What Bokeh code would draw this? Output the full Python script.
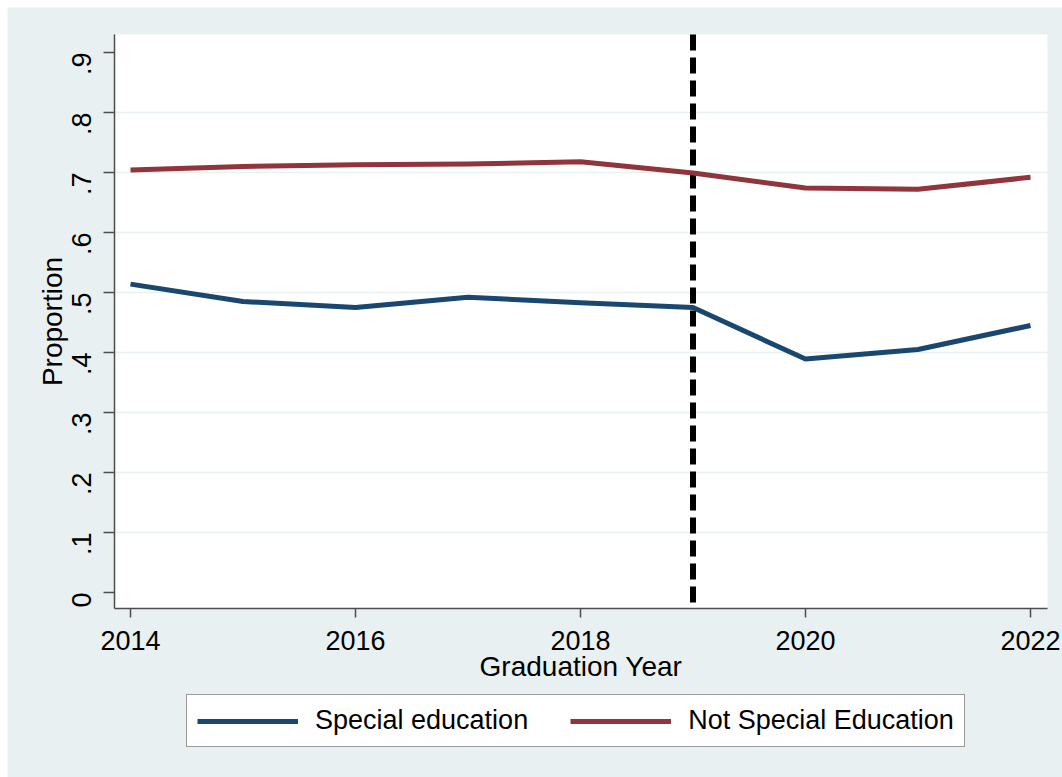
import math
from bokeh.plotting import figure
from bokeh.models import Range1d, FixedTicker, Legend, BoxAnnotation, Label
from bokeh.embed import file_html
from bokeh.resources import INLINE

# ---- data ----
years = [2014, 2015, 2016, 2017, 2018, 2019, 2020, 2021, 2022]
special_ed = [0.514, 0.485, 0.475, 0.492, 0.483, 0.475, 0.389, 0.405, 0.445]
not_special_ed = [0.704, 0.710, 0.713, 0.714, 0.718, 0.699, 0.674, 0.672, 0.692]
cutoff_year = 2019
x_ticks = [2014, 2016, 2018, 2020, 2022]
y_ticks = [0, 0.1, 0.2, 0.3, 0.4, 0.5, 0.6, 0.7, 0.8, 0.9]
y_tick_labels = ["0", ".1", ".2", ".3", ".4", ".5", ".6", ".7", ".8", ".9"]
series_names = ["Special education", "Not Special Education"]
x_title = "Graduation Year"
y_title = "Proportion"

# plot-region limits (axis extents) and the whole canvas extent
x_min, x_max = 2013.858, 2022.151
y_min, y_max = -0.0267, 0.93
x_canvas = (2012.9067, 2022.2844)
y_canvas = (-0.30833, 0.975)

BG = "#E8F0F2"
BLUE = "#1A476F"
RED = "#90353B"
FONT = "Liberation Sans"
FS = "27px"
FS_TITLE = "28px"

p = figure(width=1055, height=770,
           x_range=Range1d(*x_canvas), y_range=Range1d(*y_canvas),
           output_backend="svg", toolbar_location=None,
           min_border_left=0, min_border_right=0,
           min_border_top=0, min_border_bottom=0)
p.margin = (7, 0, 0, 7)
p.background_fill_color = BG
p.border_fill_color = BG
p.outline_line_color = None

# white plot region
p.add_layout(BoxAnnotation(left=x_min, right=x_max, bottom=y_min, top=y_max,
                           fill_color="white", fill_alpha=1.0, line_color=None,
                           level="image"))

# grid
p.xgrid.visible = False
p.ygrid.ticker = FixedTicker(ticks=y_ticks[1:-1])
p.ygrid.grid_line_color = BG
p.ygrid.grid_line_width = 1.5

# axes
p.xaxis.fixed_location = y_min
p.yaxis.fixed_location = x_min
p.xaxis.bounds = (x_min, x_max)
p.yaxis.bounds = (y_min, y_max)
p.xaxis.ticker = FixedTicker(ticks=x_ticks)
p.yaxis.ticker = FixedTicker(ticks=y_ticks)
p.yaxis.major_label_overrides = {t: l for t, l in zip(y_ticks, y_tick_labels)}
p.yaxis.major_label_orientation = math.pi / 2
for ax in (p.xaxis[0], p.yaxis[0]):
    ax.axis_line_color = "#4D4D4D"
    ax.axis_line_width = 1.5
    ax.major_tick_line_color = "#4D4D4D"
    ax.major_tick_line_width = 1.5
    ax.major_tick_in = 0
    ax.minor_tick_line_color = None
    ax.major_label_text_font = FONT
    ax.major_label_text_font_size = FS
    ax.major_label_text_color = "black"
p.xaxis.major_tick_out = 9
p.yaxis.major_tick_out = 11
p.xaxis.major_label_standoff = 13
p.yaxis.major_label_standoff = 22

# axis titles
p.add_layout(Label(x=(x_min + x_max) / 2, y=111, y_units="screen", text=x_title,
                   text_align="center", text_baseline="alphabetic",
                   text_font=FONT, text_font_size=FS_TITLE, text_color="black"))
p.add_layout(Label(x=45, x_units="screen", y=(y_min + y_max) / 2, text=y_title,
                   angle=math.pi / 2, text_align="center", text_baseline="alphabetic",
                   text_font=FONT, text_font_size=FS_TITLE, text_color="black"))

# cutoff line
p.segment(x0=[cutoff_year], y0=[y_max], x1=[cutoff_year], y1=[y_min],
          line_color="black", line_width=6, line_dash="16 7")

r1 = p.line(years, special_ed, line_color=BLUE, line_width=5, line_join="round")
r2 = p.line(years, not_special_ed, line_color=RED, line_width=5, line_join="round")

legend = Legend(items=[(series_names[0], [r1]), (series_names[1], [r2])],
                orientation="horizontal", location=(179, 30),
                label_text_font=FONT, label_text_font_size=FS,
                label_text_color="black",
                glyph_width=101, glyph_height=30, label_standoff=17,
                spacing=42, padding=10, margin=0,
                border_line_color="#333333", border_line_width=1.5,
                background_fill_color="white", background_fill_alpha=1.0)
p.add_layout(legend, "center")

open("out.html", "w").write(file_html(p, INLINE))
